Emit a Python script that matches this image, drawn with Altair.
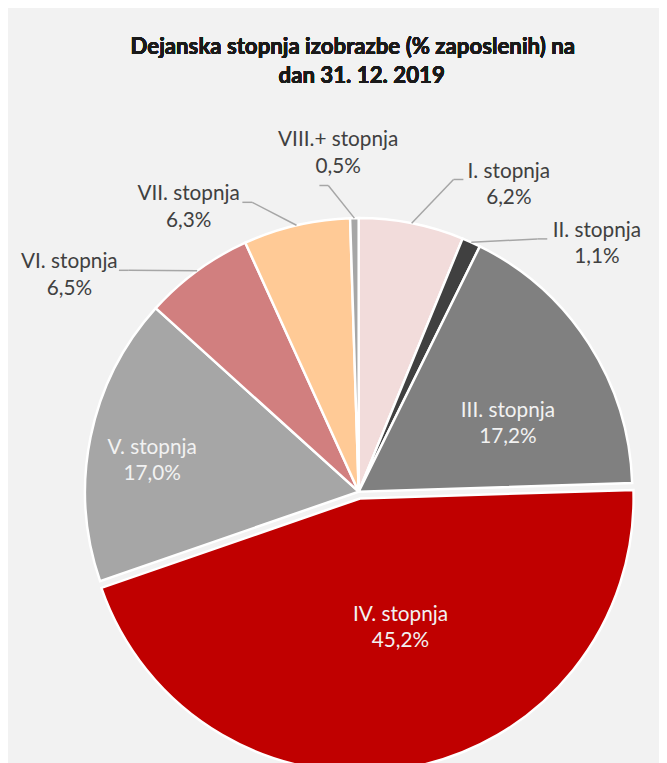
import altair as alt
import pandas as pd

# ---- data ----
categories = ["I. stopnja", "II. stopnja", "III. stopnja", "IV. stopnja",
              "V. stopnja", "VI. stopnja", "VII. stopnja", "VIII.+ stopnja"]
values = [6.2, 1.1, 17.2, 45.2, 17.0, 6.5, 6.3, 0.5]
value_labels = ["6,2%", "1,1%", "17,2%", "45,2%", "17,0%", "6,5%", "6,3%", "0,5%"]
title_lines = ["Dejanska stopnja izobrazbe (% zaposlenih) na", "dan 31. 12. 2019"]

# ---- styles / layout ----
colors = ["#F2DCDB", "#404040", "#808080", "#C00000",
          "#A6A6A6", "#D17F7F", "#FFCA96", "#A6A6A6"]
explode_px = [0, 0, 0, 7, 0, 0, 0, 0]
label_shift_deg = [15.1, 19.9, 9.2, -6.6, -3.9, -17.4, -18.0, -2.6]
label_radius = [343.5, 345.8, 164.8, 140.1, 210.9, 364.0, 332.9, 340.1]
label_inside = [False, False, True, True, True, False, False, False]

CX, CY, R = 355, 485, 277
FONT = "Lato"

df = pd.DataFrame({
    "order": list(range(len(categories))),
    "category": categories,
    "value": values,
    "pct": value_labels,
    "color": colors,
    "explode": explode_px,
    "shift": label_shift_deg,
    "lrad": label_radius,
    "inside": label_inside,
})

base = alt.Chart(df).transform_window(
    cum="sum(value)", sort=[alt.SortField("order")], frame=[None, 0]
).transform_calculate(
    start="datum.cum - datum.value",
    mid="(datum.cum - datum.value / 2) / 100 * 2 * PI",
    cx=f"{CX} + datum.explode * sin((datum.cum - datum.value / 2) / 100 * 2 * PI)",
    cy=f"{CY} - datum.explode * cos((datum.cum - datum.value / 2) / 100 * 2 * PI)",
).transform_calculate(
    la="datum.mid + datum.shift * PI / 180",
).transform_calculate(
    lx="datum.cx + datum.lrad * sin(datum.la)",
    ly="datum.cy - datum.lrad * cos(datum.la)",
    sx=f"datum.cx + {R} * sin(datum.mid)",
    sy=f"datum.cy - {R} * cos(datum.mid)",
).transform_calculate(
    side=f"datum.lx > {CX} ? 1 : -1",
    top=f"abs(datum.lx - {CX}) < 40",
).transform_calculate(
    ex="datum.top ? datum.lx - 19 : datum.lx - datum.side * (length(datum.category) * 4.2 + 4)",
    ey="datum.top ? datum.ly + 29.5 : datum.ly - 8",
).transform_calculate(
    bx="datum.top ? datum.ex + 9 : datum.ex - datum.side * 10",
    by="datum.ey",
    txt="datum.category + '\\n' + datum.pct",
)

arcs = base.mark_arc(radius=R, stroke="white", strokeWidth=2.5).encode(
    theta=alt.Theta("start:Q", scale=alt.Scale(domain=[0, 100], range=[0, 6.283185307]), stack=False),
    theta2="cum:Q",
    x=alt.X("cx:Q", scale=None),
    y=alt.Y("cy:Q", scale=None),
    color=alt.Color("color:N", scale=None),
)

outside = base.transform_filter("!datum.inside")

lead1 = outside.mark_rule(color="#A6A6A6", strokeWidth=1.5).encode(
    x=alt.X("sx:Q", scale=None), y=alt.Y("sy:Q", scale=None),
    x2="bx:Q", y2="by:Q",
)
lead2 = outside.mark_rule(color="#A6A6A6", strokeWidth=1.5).encode(
    x=alt.X("bx:Q", scale=None), y=alt.Y("by:Q", scale=None),
    x2="ex:Q", y2="ey:Q",
)

out_text = outside.mark_text(
    font=FONT, fontSize=21, color="#404040", align="center", baseline="middle",
    lineBreak="\n", lineHeight=26.5, dy=-16,
).encode(
    x=alt.X("lx:Q", scale=None), y=alt.Y("ly:Q", scale=None), text="txt:N",
)

in_text = base.transform_filter("datum.inside").mark_text(
    font=FONT, fontSize=21, color="#F2F2F2", align="center", baseline="middle",
    lineBreak="\n", lineHeight=26.5, dy=-16,
).encode(
    x=alt.X("lx:Q", scale=None), y=alt.Y("ly:Q", scale=None), text="txt:N",
)

title1 = alt.Chart(df).mark_text(
    font=FONT, fontSize=22.5, fontWeight="bold", color="#1A1A1A", align="center",
    baseline="middle", text=title_lines[0],
).encode(x=alt.value(349), y=alt.value(35))
title2 = alt.Chart(df).mark_text(
    font=FONT, fontSize=22.5, fontWeight="bold", color="#1A1A1A", align="center",
    baseline="middle", text=title_lines[1],
).encode(x=alt.value(358), y=alt.value(64))

chart = alt.layer(arcs, lead1, lead2, out_text, in_text, title1, title2).properties(
    width=659, height=755, padding=0,
    autosize=alt.AutoSizeParams(type="fit", contains="padding"),
).configure(background="#F2F2F2").configure_view(stroke=None)

chart.save("out.html", embed_options={"renderer": "svg", "actions": False})
